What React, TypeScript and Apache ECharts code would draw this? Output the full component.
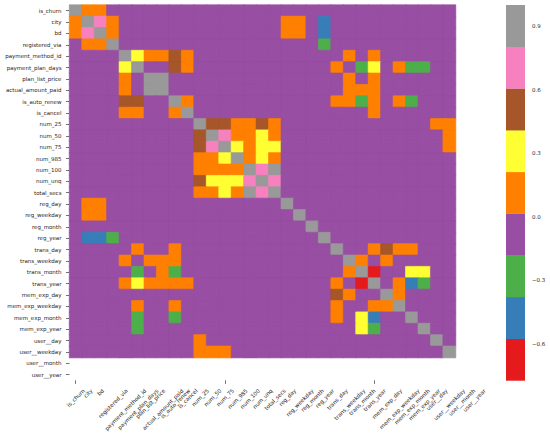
import React, { useEffect, useRef } from 'react';
import * as echarts from 'echarts';

const labels = [
  'is_churn', 'city', 'bd', 'registered_via', 'payment_method_id', 'payment_plan_days',
  'plan_list_price', 'actual_amount_paid', 'is_auto_renew', 'is_cancel', 'num_25', 'num_50',
  'num_75', 'num_985', 'num_100', 'num_unq', 'total_secs', 'reg_day', 'reg_weekday', 'reg_month',
  'reg_year', 'trans_day', 'trans_weekday', 'trans_month', 'trans_year', 'mem_exp_day',
  'mem_exp_weekday', 'mem_exp_month', 'mem_exp_year', 'user__day', 'user__weekday',
  'user__month', 'user__year',
];

// Correlations of the first 31 variables (user__month and user__year are constant -> NaN, left blank)
const corr: number[][] = [
  [1, .1, .1, 0, 0, 0, 0, 0, 0, 0, 0, 0, 0, 0, 0, 0, 0, 0, 0, 0, 0, 0, 0, 0, 0, 0, 0, 0, 0, 0, 0],
  [.1, 1, .7, .1, 0, 0, 0, 0, 0, 0, 0, 0, 0, 0, 0, 0, 0, .1, .1, 0, -.45, 0, 0, 0, 0, 0, 0, 0, 0, 0, 0],
  [.1, .7, 1, .1, 0, 0, 0, 0, 0, 0, 0, 0, 0, 0, 0, 0, 0, .1, .1, 0, -.45, 0, 0, 0, 0, 0, 0, 0, 0, 0, 0],
  [0, .1, .1, 1, 0, 0, 0, 0, 0, 0, 0, 0, 0, 0, 0, 0, 0, 0, 0, 0, -.25, 0, 0, 0, 0, 0, 0, 0, 0, 0, 0],
  [0, 0, 0, 0, 1, .3, .1, .1, .5, .1, 0, 0, 0, 0, 0, 0, 0, 0, 0, 0, 0, 0, .1, 0, .1, 0, 0, 0, 0, 0, 0],
  [0, 0, 0, 0, .3, 1, 0, 0, .5, .1, 0, 0, 0, 0, 0, 0, 0, 0, 0, 0, 0, .1, 0, -.25, .3, 0, .1, -.25, -.25, 0, 0],
  [0, 0, 0, 0, .1, 0, 1, .9, 0, 0, 0, 0, 0, 0, 0, 0, 0, 0, 0, 0, 0, 0, .1, 0, .1, 0, 0, 0, 0, 0, 0],
  [0, 0, 0, 0, .1, 0, .9, 1, 0, 0, 0, 0, 0, 0, 0, 0, 0, 0, 0, 0, 0, 0, .1, .1, .1, 0, 0, 0, 0, 0, 0],
  [0, 0, 0, 0, .5, .5, 0, 0, 1, .1, 0, 0, 0, 0, 0, 0, 0, 0, 0, 0, 0, .1, .1, -.25, .1, 0, .1, -.25, 0, 0, 0],
  [0, 0, 0, 0, .1, .1, 0, 0, .1, 1, 0, 0, 0, 0, 0, 0, 0, 0, 0, 0, 0, 0, 0, 0, .1, 0, 0, 0, 0, 0, 0],
  [0, 0, 0, 0, 0, 0, 0, 0, 0, 0, 1, .5, .5, .1, .1, .5, .1, 0, 0, 0, 0, 0, 0, 0, 0, 0, 0, 0, 0, .1, .1],
  [0, 0, 0, 0, 0, 0, 0, 0, 0, 0, .5, 1, .7, .1, .1, .3, .1, 0, 0, 0, 0, 0, 0, 0, 0, 0, 0, 0, 0, 0, .1],
  [0, 0, 0, 0, 0, 0, 0, 0, 0, 0, .5, .7, 1, .3, .1, .3, .3, 0, 0, 0, 0, 0, 0, 0, 0, 0, 0, 0, 0, 0, .1],
  [0, 0, 0, 0, 0, 0, 0, 0, 0, 0, .1, .1, .3, 1, .1, .3, .1, 0, 0, 0, 0, 0, 0, 0, 0, 0, 0, 0, 0, 0, 0],
  [0, 0, 0, 0, 0, 0, 0, 0, 0, 0, .1, .1, .1, .1, 1, .7, .9, 0, 0, 0, 0, 0, 0, 0, 0, 0, 0, 0, 0, 0, 0],
  [0, 0, 0, 0, 0, 0, 0, 0, 0, 0, .5, .3, .3, .3, .7, 1, .7, 0, 0, 0, 0, 0, 0, 0, 0, 0, 0, 0, 0, 0, 0],
  [0, 0, 0, 0, 0, 0, 0, 0, 0, 0, .1, .1, .3, .1, .9, .7, 1, 0, 0, 0, 0, 0, 0, 0, 0, 0, 0, 0, 0, 0, 0],
  [0, .1, .1, 0, 0, 0, 0, 0, 0, 0, 0, 0, 0, 0, 0, 0, 0, 1, 0, 0, 0, 0, 0, 0, 0, 0, 0, 0, 0, 0, 0],
  [0, .1, .1, 0, 0, 0, 0, 0, 0, 0, 0, 0, 0, 0, 0, 0, 0, 0, 1, 0, 0, 0, 0, 0, 0, 0, 0, 0, 0, 0, 0],
  [0, 0, 0, 0, 0, 0, 0, 0, 0, 0, 0, 0, 0, 0, 0, 0, 0, 0, 0, 1, 0, 0, 0, 0, 0, 0, 0, 0, 0, 0, 0],
  [0, -.45, -.45, -.25, 0, 0, 0, 0, 0, 0, 0, 0, 0, 0, 0, 0, 0, 0, 0, 0, 1, 0, 0, 0, 0, 0, 0, 0, 0, 0, 0],
  [0, 0, 0, 0, 0, .1, 0, 0, .1, 0, 0, 0, 0, 0, 0, 0, 0, 0, 0, 0, 0, 1, 0, 0, .1, .5, .1, .1, 0, 0, 0],
  [0, 0, 0, 0, .1, 0, .1, .1, .1, 0, 0, 0, 0, 0, 0, 0, 0, 0, 0, 0, 0, 0, 1, .1, 0, .1, 0, 0, 0, 0, 0],
  [0, 0, 0, 0, 0, -.25, 0, .1, -.25, 0, 0, 0, 0, 0, 0, 0, 0, 0, 0, 0, 0, 0, .1, 1, -.65, 0, 0, .3, .3, 0, 0],
  [0, 0, 0, 0, .1, .3, .1, .1, .1, .1, 0, 0, 0, 0, 0, 0, 0, 0, 0, 0, 0, .1, 0, -.65, 1, 0, .1, -.45, -.25, 0, 0],
  [0, 0, 0, 0, 0, 0, 0, 0, 0, 0, 0, 0, 0, 0, 0, 0, 0, 0, 0, 0, 0, .5, .1, 0, 0, 1, .1, 0, 0, 0, 0],
  [0, 0, 0, 0, 0, .1, 0, 0, .1, 0, 0, 0, 0, 0, 0, 0, 0, 0, 0, 0, 0, .1, 0, 0, .1, .1, 1, 0, 0, 0, 0],
  [0, 0, 0, 0, 0, -.25, 0, 0, -.25, 0, 0, 0, 0, 0, 0, 0, 0, 0, 0, 0, 0, .1, 0, .3, -.45, 0, 0, 1, 0, 0, 0],
  [0, 0, 0, 0, 0, -.25, 0, 0, 0, 0, 0, 0, 0, 0, 0, 0, 0, 0, 0, 0, 0, 0, 0, .3, -.25, 0, 0, 0, 1, 0, 0],
  [0, 0, 0, 0, 0, 0, 0, 0, 0, 0, .1, 0, 0, 0, 0, 0, 0, 0, 0, 0, 0, 0, 0, 0, 0, 0, 0, 0, 0, 1, 0],
  [0, 0, 0, 0, 0, 0, 0, 0, 0, 0, .1, .1, .1, 0, 0, 0, 0, 0, 0, 0, 0, 0, 0, 0, 0, 0, 0, 0, 0, 0, 1],
];

// Set1 colormap (low -> high)
const set1 = ['#e41a1c', '#377eb8', '#4daf4a', '#984ea3', '#ff7f00', '#ffff33', '#a65628', '#f781bf', '#999999'];
const vMin = -0.774;
const vMax = 1.0;
const cbarTicks = [-0.6, -0.3, 0, 0.3, 0.6, 0.9];

const FONT = 'DejaVu Sans';
const FS = 5.5;
const TXT = '#262626';

export default function App() {
  const ref = useRef<HTMLDivElement>(null);

  useEffect(() => {
    if (!ref.current) return;
    const chart = echarts.init(ref.current, null, { renderer: 'svg' });
    const step = (vMax - vMin) / set1.length;
    const pieces = set1.map((color, k) => {
      const lo = vMin + k * step;
      const hi = vMin + (k + 1) * step;
      return k === set1.length - 1 ? { gte: lo, lte: hi + 1e-9, color } : { gte: lo, lt: hi, color };
    });
    const colorOf = (v: number) => {
      const k = Math.min(set1.length - 1, Math.max(0, Math.floor((v - vMin) / step)));
      return set1[k];
    };

    const data: any[] = [];
    corr.forEach((row, r) =>
      row.forEach((v, c) =>
        data.push({ value: [c, r, v], itemStyle: { borderColor: colorOf(v), borderWidth: 0.6 } }),
      ),
    );

    const grid0 = { left: 69.5, top: 5, width: 411, height: 375.4 };
    const grid1 = { left: 506, top: 5, width: 19, height: 375.4 };
    const tickStyle = { color: '#333', width: 0.7 };

    chart.setOption({
      animation: false,
      backgroundColor: '#fff',
      grid: [grid0, grid1],
      xAxis: [
        {
          type: 'category', data: labels, gridIndex: 0, position: 'bottom',
          axisLine: { show: false },
          axisTick: { show: true, alignWithLabel: true, length: 3.5, lineStyle: tickStyle },
          axisLabel: { show: false },
          splitLine: { show: false },
        },
        { type: 'value', gridIndex: 1, min: 0, max: 1, show: false },
      ],
      yAxis: [
        {
          type: 'category', data: labels, gridIndex: 0, inverse: true,
          axisLine: { show: false },
          axisTick: { show: true, alignWithLabel: true, length: 3.5, lineStyle: tickStyle },
          axisLabel: { fontSize: FS, fontFamily: FONT, color: TXT, margin: 8, interval: 0 },
          splitLine: { show: false },
        },
        {
          type: 'value', gridIndex: 1, min: vMin, max: vMax, position: 'right',
          axisLine: { show: false },
          splitLine: { show: false },
          axisTick: { show: true, customValues: cbarTicks, length: 3.5, lineStyle: tickStyle },
          axisLabel: {
            customValues: cbarTicks, fontSize: FS, fontFamily: FONT, color: TXT, margin: 7,
            formatter: (v: number) => v.toFixed(1).replace('-', '\u2212'),
          },
        },
      ],
      visualMap: {
        type: 'piecewise', show: false, seriesIndex: 0, dimension: 2, pieces,
      },
      series: [
        {
          type: 'heatmap', xAxisIndex: 0, yAxisIndex: 0, data,
          emphasis: { disabled: true },
          silent: true,
        },
        {
          type: 'custom', xAxisIndex: 1, yAxisIndex: 1, silent: true,
          data: set1.map((_, k) => [0.5, vMin + (k + 0.5) * step, k]),
          renderItem: (params: any, api: any) => {
            const k = api.value(2);
            const lo = vMin + k * step;
            const hi = lo + step;
            const p1 = api.coord([0, hi]);
            const p2 = api.coord([1, lo]);
            return {
              type: 'rect',
              shape: { x: p1[0], y: p1[1], width: p2[0] - p1[0], height: p2[1] - p1[1] + 0.3 },
              style: { fill: set1[k] },
            };
          },
        },
      ],
    });

    // x tick labels: rotated 45 deg, bounding box centred on the tick, top aligned below it
    const cv = document.createElement('canvas');
    const ctx = cv.getContext('2d')!;
    ctx.font = `${FS}px "${FONT}"`;
    const labelTop = 387.5;
    const s = Math.SQRT1_2;
    const elements = labels.map((lab, i) => {
      const px = chart.convertToPixel({ xAxisIndex: 0 }, i) as unknown as number;
      const w = ctx.measureText(lab).width;
      const h = FS * 1.16;
      const boxH = (w + h) * s;
      return {
        type: 'text', x: px, y: labelTop + boxH / 2, rotation: Math.PI / 4, silent: true,
        style: { text: lab, font: `${FS}px "${FONT}"`, fill: TXT, align: 'center', verticalAlign: 'middle' },
      };
    });
    chart.setOption({ graphic: { elements } });

    return () => chart.dispose();
  }, []);

  return (
    <div
      ref={ref}
      style={{ position: 'fixed', left: 0, top: 0, width: 550, height: 441, background: '#fff' }}
    />
  );
}
